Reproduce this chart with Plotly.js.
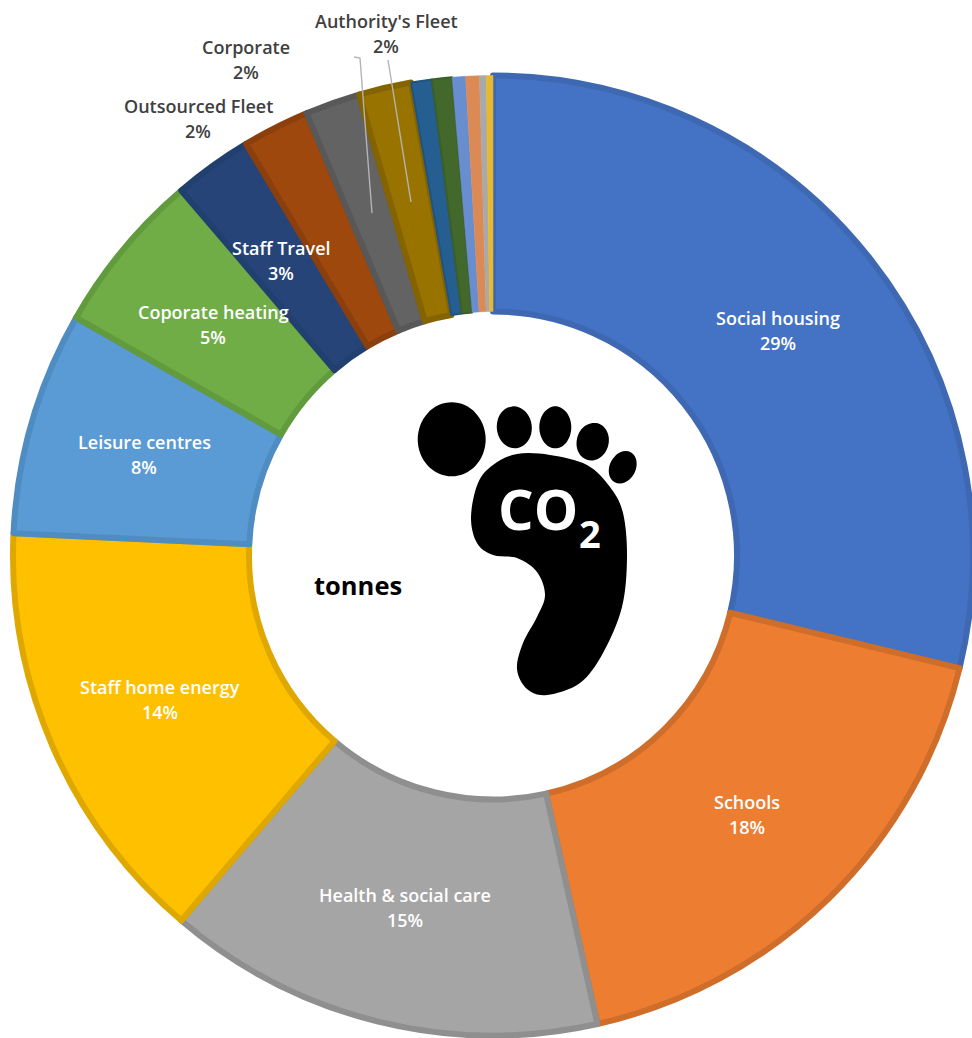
<!DOCTYPE html>
<html>
<head>
<meta charset="utf-8">
<script src="https://cdn.plot.ly/plotly-3.0.1.min.js"></script>
<style>html,body{margin:0;padding:0;background:#fff;overflow:hidden;width:972px;height:1038px}</style>
</head>
<body>
<div id="chart"></div>
<script>
// ---- data (share of total, %) ----
const categories = ["Social housing","Schools","Health & social care","Staff home energy","Leisure centres","Coporate heating","Staff Travel","Outsourced Fleet","Corporate","Authority's Fleet","Minor source A","Minor source B","Minor source C","Minor source D","Minor source E","Minor source F"];
const shares = [28.77,17.74,14.74,14.49,7.51,5.5,2.65,2.25,1.85,1.77,0.7,0.67,0.45,0.46,0.23,0.22];
const percentLabels = ["29%","18%","15%","14%","8%","5%","3%","2%","2%","2%"];
// ---- styling ----
const fills = ["#4472C4","#ED7D31","#A5A5A5","#FFC000","#5B9BD5","#70AD47","#264478","#9E480E","#636363","#997300","#255E91","#43682B","#698ED0","#DB8A56","#A9A9A9","#E8B92F"];
const edges = ["#3F68B2","#CF6D2B","#8F8F8F","#DFA800","#4F8CC2","#629A3E","#21406F","#8A3F0C","#585858","#856400","#21537F","#3C5E27","#698ED0","#DB8A56","#A9A9A9","#E8B92F"];
const edgeWidths = [6,6,6,6,6,6,6,6,6,6,2,2,0.5,0.5,0.5,0.5];
const W=1000,H=1038, CX=493, CY=555.5, R=480, RIN=244;
const px=x=>x/W, py=y=>1-y/H;

// outside labels: [category index, x, y of name line, y of percent line]
const outside = [[7,198,106,131],[8,246,47,72],[9,386,21,46]];
const leaders = [[[354,57],[360,58],[372,213]],[[388,60],[411,202]]];

// footprint outline, in reference pixels
const foot = [[517,454],[550,455],[587,465],[610,487],[623,513],[627,557],[622,607],[603,653],[580,683],[547,695],[527,689],[517,669],[523,643],[537,617],[545,595],[537,572],[517,558],[493,555],[477,543],[471,517],[478,483],[493,465]];
const toes = [[451.7,439.3,34,37,0],[514.3,427.3,17.5,21,-5],[555.3,427.3,16,21,0],[592.7,441.7,16,19,15],[622.7,467.3,13,17,28]];

function smooth(p){
  let d=`M${px(p[0][0])},${py(p[0][1])}`; const n=p.length;
  for(let i=0;i<n;i++){
    const a=p[(i-1+n)%n],b=p[i],c=p[(i+1)%n],e=p[(i+2)%n];
    const c1=[b[0]+(c[0]-a[0])/6,b[1]+(c[1]-a[1])/6],c2=[c[0]-(e[0]-b[0])/6,c[1]-(e[1]-b[1])/6];
    d+=`C${px(c1[0])},${py(c1[1])} ${px(c2[0])},${py(c2[1])} ${px(c[0])},${py(c[1])}`;
  }
  return d+'Z';
}
function ellipse(t){
  const [x,y,rx,ry,rot]=t,a=rot*Math.PI/180,pts=[];
  for(let i=0;i<16;i++){const u=i/16*2*Math.PI,ex=rx*Math.cos(u),ey=ry*Math.sin(u);
    pts.push([x+ex*Math.cos(a)-ey*Math.sin(a),y+ex*Math.sin(a)+ey*Math.cos(a)]);}
  return smooth(pts);
}
const shapes=[];
shapes.push({type:'path',xref:'paper',yref:'paper',path:smooth(foot),fillcolor:'#000',line:{width:0},layer:'above'});
toes.forEach(t=>shapes.push({type:'path',xref:'paper',yref:'paper',path:ellipse(t),fillcolor:'#000',line:{width:0},layer:'above'}));
leaders.forEach(l=>shapes.push({type:'path',xref:'paper',yref:'paper',
  path:l.map((p,i)=>(i?'L':'M')+px(p[0])+','+py(p[1])).join(''),line:{color:'#B4B4B4',width:1.4},layer:'above'}));

const base="'Open Sans', sans-serif";
function note(text,x,y,size,color,weight){
  return {text,xref:'paper',yref:'paper',x:px(x),y:py(y),xanchor:'center',yanchor:'middle',showarrow:false,
    font:{family:base,size,color,weight}};
}
const annotations=[];
const total=shares.reduce((a,b)=>a+b,0);
let cum=0; const rMid=363;
shares.forEach((s,i)=>{
  const mid=(cum+s/2)/total*2*Math.PI; cum+=s;
  if(i>=percentLabels.length) return;
  const o=outside.find(q=>q[0]===i);
  if(o){
    annotations.push(note(categories[i],o[1],o[2],18,'#404040',600));
    annotations.push(note(percentLabels[i],o[1],o[3],18,'#404040',600));
  }else{
    const x=CX+rMid*Math.sin(mid),y=CY-rMid*Math.cos(mid);
    annotations.push(note(categories[i],x,y-12.5,18,'#FFFFFF',600));
    annotations.push(note(percentLabels[i],x,y+12.5,18,'#FFFFFF',600));
  }
});
annotations.push(note('tonnes',358,585,25.5,'#000000',700));
annotations.push(note('CO',538,508,56,'#FFFFFF',700));
annotations.push(note('2',590,533,38,'#FFFFFF',700));

Plotly.newPlot('chart',[{
  type:'pie',labels:categories,values:shares,sort:false,direction:'clockwise',rotation:0,
  hole:RIN/R,textinfo:'none',showlegend:false,
  marker:{colors:fills,line:{color:edges,width:edgeWidths}},
  domain:{x:[(CX-R)/W,(CX+R)/W],y:[1-(CY+R)/H,1-(CY-R)/H]}
}],{
  width:W,height:H,margin:{l:0,r:0,t:0,b:0},paper_bgcolor:'#fff',showlegend:false,
  annotations,shapes
},{displayModeBar:false,staticPlot:true});
</script>
</body>
</html>
